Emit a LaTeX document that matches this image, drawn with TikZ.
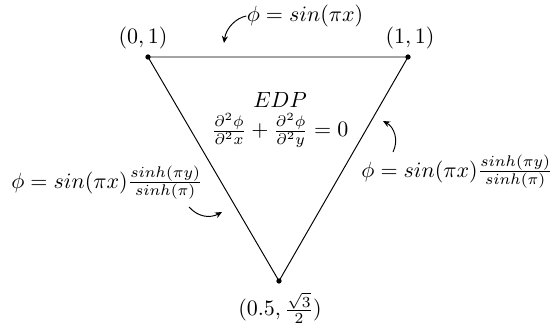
\documentclass[tikz,border=0pt]{standalone}
\usetikzlibrary{arrows.meta}
\begin{document}
\begin{tikzpicture}[x=0.455pt,y=-0.455pt,
  line width=0.44pt,
  dot/.style={circle,fill,inner sep=0pt,minimum size=2.4pt},
  lbl/.style={inner sep=0pt},
  arr/.style={-{Stealth[length=3.2pt,width=2.8pt]},line width=0.44pt}]
\useasboundingbox (0,0) rectangle (552,331);
\node[dot] (A) at (148,57) {};
\node[dot] (B) at (408,57) {};
\node[dot] (C) at (279,281) {};
\draw (A.center) -- (B.center) -- (C.center) -- cycle;
\node[lbl] (lA) at (143,38) {$(0,1)$};
\node[lbl] (lB) at (410,38) {$(1,1)$};
\node[lbl] (lC) at (280,308) {$(0.5,\frac{\sqrt{3}}{2})$};
\node[lbl] (top) at (305,16) {$\phi = sin(\pi x)$};
\node[lbl] (edp) at (280,100) {$EDP$};
\node[lbl] (eq) at (280,130) {$\frac{\partial^2\phi}{\partial^2 x}+\frac{\partial^2\phi}{\partial^2 y}=0$};
\node[lbl] (left) at (107,183) {$\phi = sin(\pi x)\frac{sinh(\pi y)}{sinh(\pi)}$};
\node[lbl] (right) at (457,172) {$\phi = sin(\pi x)\frac{sinh(\pi y)}{sinh(\pi)}$};
\coordinate (t1) at (224,43);
\draw[arr] (top.west) .. controls (236,18) and (226,28) .. (t1);
\coordinate (l0) at (189,207);
\coordinate (l1) at (222,212);
\draw[arr] (l0) .. controls (199,218) and (211,218) .. (l1);
\coordinate (r0) at (393,152);
\coordinate (r1) at (383,121);
\draw[arr] (r0) .. controls (399,140) and (394,127) .. (r1);
\end{tikzpicture}
\end{document}
